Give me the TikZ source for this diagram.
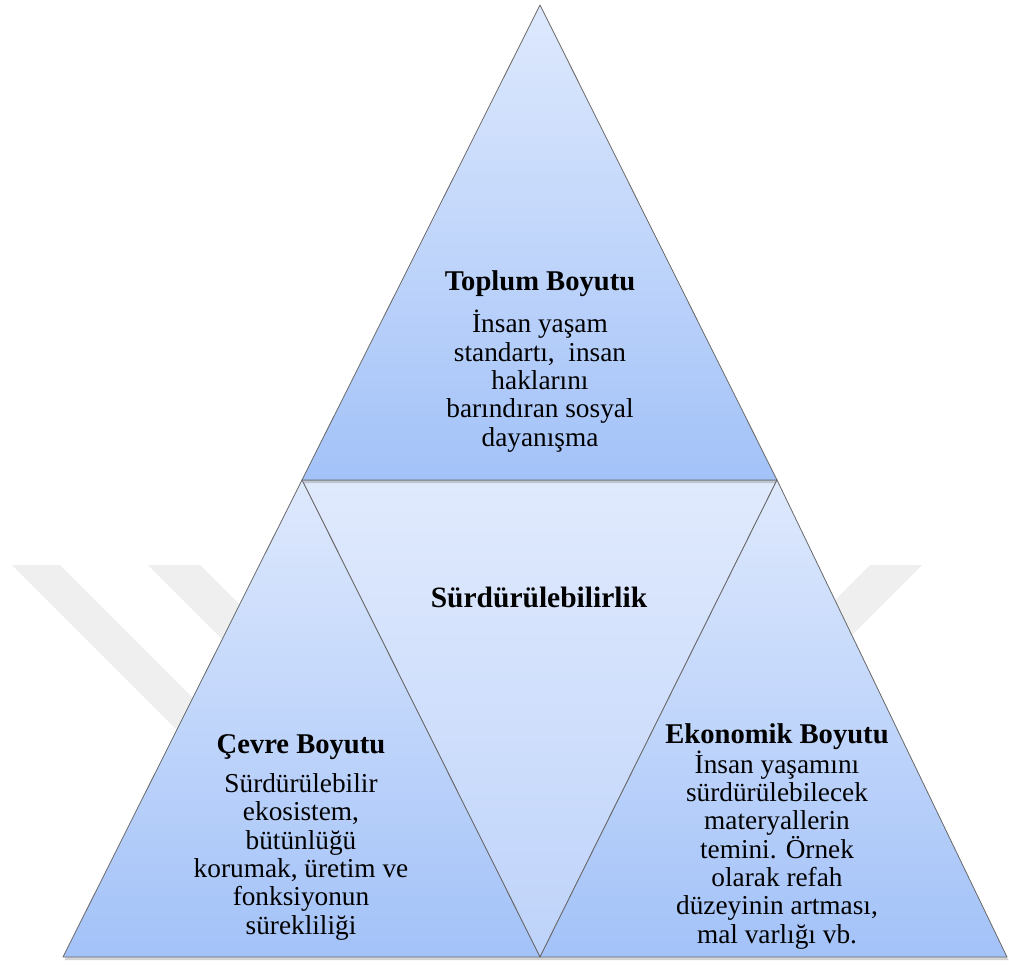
\documentclass[tikz,border=0pt]{standalone}
\usepackage{fontspec}
\setmainfont{Liberation Serif}
\usetikzlibrary{positioning,shadows}

\definecolor{facelight}{RGB}{222,233,253}
\definecolor{facedark}{RGB}{163,194,248}
\definecolor{midlight}{RGB}{224,234,253}
\definecolor{middark}{RGB}{190,211,250}
\definecolor{edgegray}{RGB}{105,105,105}
\definecolor{markgray}{RGB}{239,239,239}

\newcommand{\headfont}{\fontsize{28.6}{28.3}\selectfont\bfseries}

\begin{document}
\begin{tikzpicture}[
    x=1pt, y=-1pt,
    tri/.style={
        draw=edgegray, line width=0.8pt, line join=round,
        top color=facelight, bottom color=facedark,
        drop shadow={shadow xshift=1.5pt, shadow yshift=-3pt, opacity=0.35}
    },
    wmark/.style={fill=markgray},
    txt/.style={
        align=center, inner sep=0pt, anchor=base,
        font=\fontsize{27.3}{28.3}\selectfont
    }
]
\useasboundingbox (0,0) rectangle (1009,965);

% Corners
\coordinate (apex) at (540,5);
\coordinate (ml) at (302,480);
\coordinate (mr) at (777,480);
\coordinate (bl) at (63,957);
\coordinate (bm) at (540,957);
\coordinate (br) at (1007,957);

% Watermark bands
\fill[wmark] (12,565) -- (60,565) -- (260,765) -- (212,765) -- cycle;
\fill[wmark] (148,565) -- (200,565) -- (300,665) -- (248,665) -- cycle;
\fill[wmark] (870,565) -- (922,565) -- (822,665) -- (770,665) -- cycle;

% Triangles
\path[tri, top color=midlight, bottom color=middark] (ml) -- (mr) -- (bm) -- cycle;
\path[tri] (apex) -- (mr) -- (ml) -- cycle;
\path[tri] (ml) -- (bm) -- (bl) -- cycle;
\path[tri] (mr) -- (br) -- (bm) -- cycle;

% Texts (base = last line)
\node[txt] (toplum) at (540,446) {{\headfont Toplum Boyutu}\\[12.7pt]
    İnsan yaşam\\ standartı,~ insan\\ haklarını\\ barındıran sosyal\\ dayanışma};
\node[txt, font=\fontsize{29.5}{30}\selectfont\bfseries] (surd) at (539,607) {Sürdürülebilirlik};
\node[txt] (cevre) at (301,934) {{\headfont Çevre Boyutu}\\[10.7pt]
    Sürdürülebilir\\ ekosistem,\\ bütünlüğü\\ korumak, üretim ve\\ fonksiyonun\\ sürekliliği};
\node[txt] (ekonomik) at (777,943) {{\headfont Ekonomik Boyutu}\\
    İnsan yaşamını\\ sürdürülebilecek\\ materyallerin\\ temini. Örnek\\ olarak refah\\ düzeyinin artması,\\ mal varlığı vb.};

\end{tikzpicture}
\end{document}
